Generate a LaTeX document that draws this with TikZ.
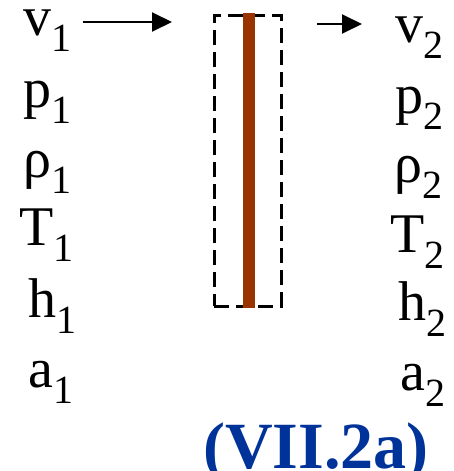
\documentclass[tikz,border=0pt]{standalone}
\usepackage{fontspec}
\setmainfont{Liberation Serif}
\usetikzlibrary{arrows.meta}

\definecolor{wallbrown}{RGB}{153,51,0}
\definecolor{eqblue}{RGB}{0,51,153}

% variable with its (large) subscript
\newcommand{\stvar}[2]{#1\raisebox{-16pt}{\fontsize{40}{40}\selectfont #2}}

\begin{document}
\begin{tikzpicture}[
    x=1pt, y=-1pt,
    % ====================
    % STYLES
    % ====================
    state/.style={
        anchor=base west, inner sep=0pt,
        font=\fontsize{56}{56}\selectfont
    },
    flow/.style={
        line width=2pt, -{Triangle[length=20pt, width=19pt]}
    },
    cvbox/.style={
        rectangle, draw=black, line width=3pt,
        dash pattern=on 15pt off 7pt,
        minimum width=67pt, minimum height=291pt, inner sep=0pt
    },
    wall/.style={
        rectangle, fill=wallbrown,
        minimum width=12pt, minimum height=295pt, inner sep=0pt
    },
    eqlabel/.style={
        anchor=base, inner sep=0pt, text=eqblue,
        font=\fontsize{66}{66}\selectfont\bfseries
    }
]
\useasboundingbox (0,0) rectangle (453,471);

% ====================
% CONTROL VOLUME
% ====================
\node[cvbox] (cv) at (247.5,160.5) {};
\node[wall] (wall) at (249,160.5) {};

% ====================
% STATE 1 (upstream)
% ====================
\node[state] (v1)   at (23,35)  {\stvar{v}{1}};
\node[state] (p1)   at (23,107) {\stvar{p}{1}};
\node[state] (rho1) at (23,177) {\stvar{ρ}{1}};
\node[state] (T1)   at (19,245) {\stvar{T}{1}};
\node[state] (h1)   at (28,317) {\stvar{h}{1}};
\node[state] (a1)   at (28,387) {\stvar{a}{1}};

% ====================
% STATE 2 (downstream)
% ====================
\node[state] (v2)   at (395,42)  {\stvar{v}{2}};
\node[state] (p2)   at (395,113) {\stvar{p}{2}};
\node[state] (rho2) at (394,182) {\stvar{ρ}{2}};
\node[state] (T2)   at (390,252) {\stvar{T}{2}};
\node[state] (h2)   at (398,320) {\stvar{h}{2}};
\node[state] (a2)   at (400,390) {\stvar{a}{2}};

% Equation label
\node[eqlabel] (eq) at (316,468) {(VII.2a)};

% ====================
% FLOW ARROWS
% ====================
\coordinate (inhead) at (172,22);
\coordinate (outtail) at (317,24);
\draw[flow] ([xshift=12pt]v1.east |- inhead) -- (inhead);
\draw[flow] (outtail) -- ([xshift=-33pt]v2.west |- outtail);

\end{tikzpicture}
\end{document}
